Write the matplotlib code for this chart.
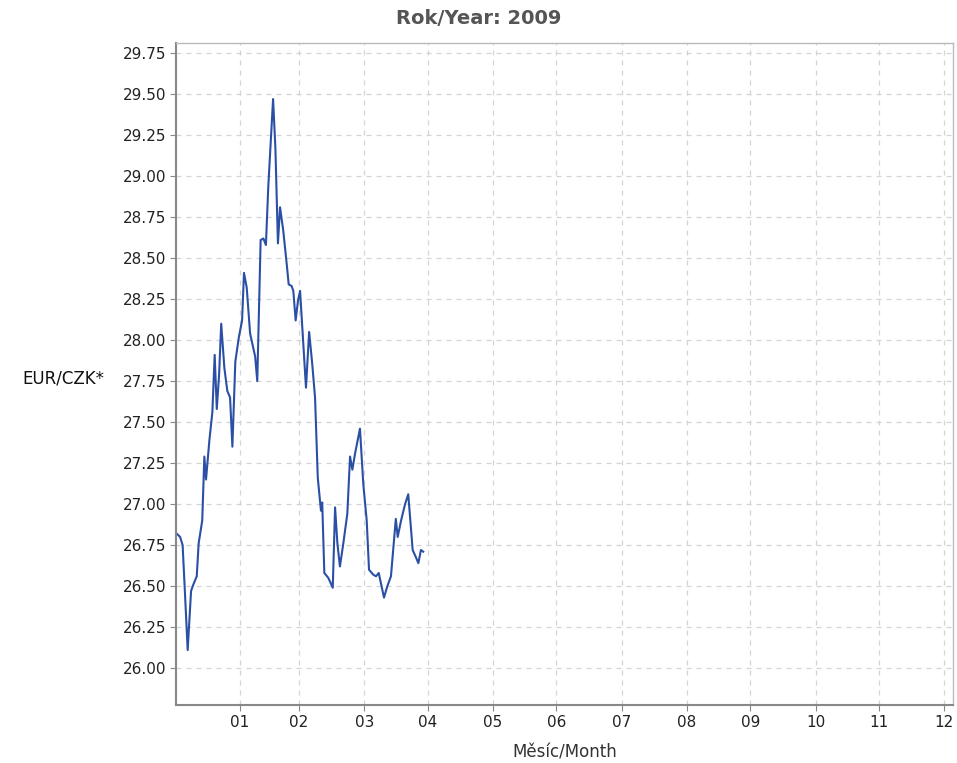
import numpy as np
import matplotlib
matplotlib.use("Agg")
import matplotlib.pyplot as plt

# EUR/CZK daily fixings, x = day of year 2009
days = [1.0, 2.6, 3.8, 4.9, 6.2, 7.8, 8.9, 10.5, 11.4, 13.1, 14.1, 14.9, 16.5, 17.9,
        19.0, 20.0, 21.1, 22.1, 23.6, 25.0, 26.3, 27.4, 28.8, 30.5, 32.0, 32.9, 34.2,
        35.8, 38.2, 39.2, 40.8, 42.1, 43.3, 44.4, 46.7, 47.8, 49.0, 50.0, 51.5, 53.2,
        54.1, 55.5, 56.3, 57.4, 58.5, 59.5, 62.3, 63.8, 65.3, 66.6, 67.9, 69.4, 70.0,
        71.0, 72.9, 75.0, 76.1, 77.2, 78.4, 80.0, 81.9, 83.2, 84.3, 85.6, 87.9, 89.5,
        91.1, 92.2, 94.2, 95.5, 96.8, 99.3, 100.9, 102.6, 104.9, 105.8, 107.4, 109.3,
        110.8, 112.9, 114.3, 115.6, 116.8, 117.9]
rates = [26.82, 26.80, 26.75, 26.46, 26.11, 26.47, 26.51, 26.56, 26.76, 26.90, 27.29,
         27.15, 27.39, 27.56, 27.91, 27.58, 27.79, 28.10, 27.83, 27.69, 27.65, 27.35,
         27.87, 28.02, 28.12, 28.41, 28.32, 28.04, 27.90, 27.75, 28.61, 28.62, 28.58,
         28.93, 29.47, 29.17, 28.59, 28.81, 28.67, 28.46, 28.34, 28.33, 28.30, 28.12,
         28.24, 28.30, 27.71, 28.05, 27.85, 27.65, 27.16, 26.96, 27.01, 26.58, 26.55,
         26.49, 26.98, 26.76, 26.62, 26.76, 26.94, 27.29, 27.21, 27.31, 27.46, 27.12,
         26.90, 26.60, 26.57, 26.56, 26.58, 26.43, 26.50, 26.56, 26.91, 26.80, 26.90,
         27.00, 27.06, 26.72, 26.68, 26.64, 26.72, 26.71]

month_ticks = [31, 59, 90, 120, 151, 181, 212, 243, 273, 304, 334, 365]
month_labels = ["01", "02", "03", "04", "05", "06", "07", "08", "09", "10", "11", "12"]
y_ticks = np.arange(26.0, 29.76, 0.25)

fig = plt.figure(figsize=(9.57, 7.63), dpi=100)
ax = fig.add_axes([176 / 957, 1 - 705 / 763, (952.7 - 176) / 957, (705 - 43.3) / 763])

ax.plot(days, rates, color="#2a4fa5", linewidth=1.5)

ax.set_xlim(0.66, 369)
ax.set_ylim(25.775, 29.81)
ax.set_xticks(month_ticks)
ax.set_xticklabels(month_labels)
ax.set_yticks(y_ticks)
ax.set_yticklabels([f"{v:.2f}" for v in y_ticks])

ax.grid(True, color="#d4d4d4", linestyle=(0, (4, 4)), linewidth=0.9)
ax.tick_params(direction="out", length=4, color="#888888", labelsize=11,
               labelcolor="#222222", pad=3)

for side in ["left", "bottom"]:
    ax.spines[side].set_color("#888888")
    ax.spines[side].set_linewidth(1.5)
for side in ["top", "right"]:
    ax.spines[side].set_color("#bbbbbb")
    ax.spines[side].set_linewidth(1.0)

# title is centred on the whole figure, not on the axes
fig.text(0.5, 1 - 19 / 763, "Rok/Year: 2009", fontsize=14, fontweight="bold",
         color="#555555", ha="center", va="center")
ax.set_xlabel("Měsíc/Month", fontsize=12, color="#333333")
ax.xaxis.set_label_coords(0.5, -0.058)
ax.set_ylabel("EUR/CZK*", fontsize=12, rotation=0, ha="right", va="center", color="#111111")
ax.yaxis.set_label_coords(-0.092, 0.494)

fig.savefig("out.png", dpi=100)
